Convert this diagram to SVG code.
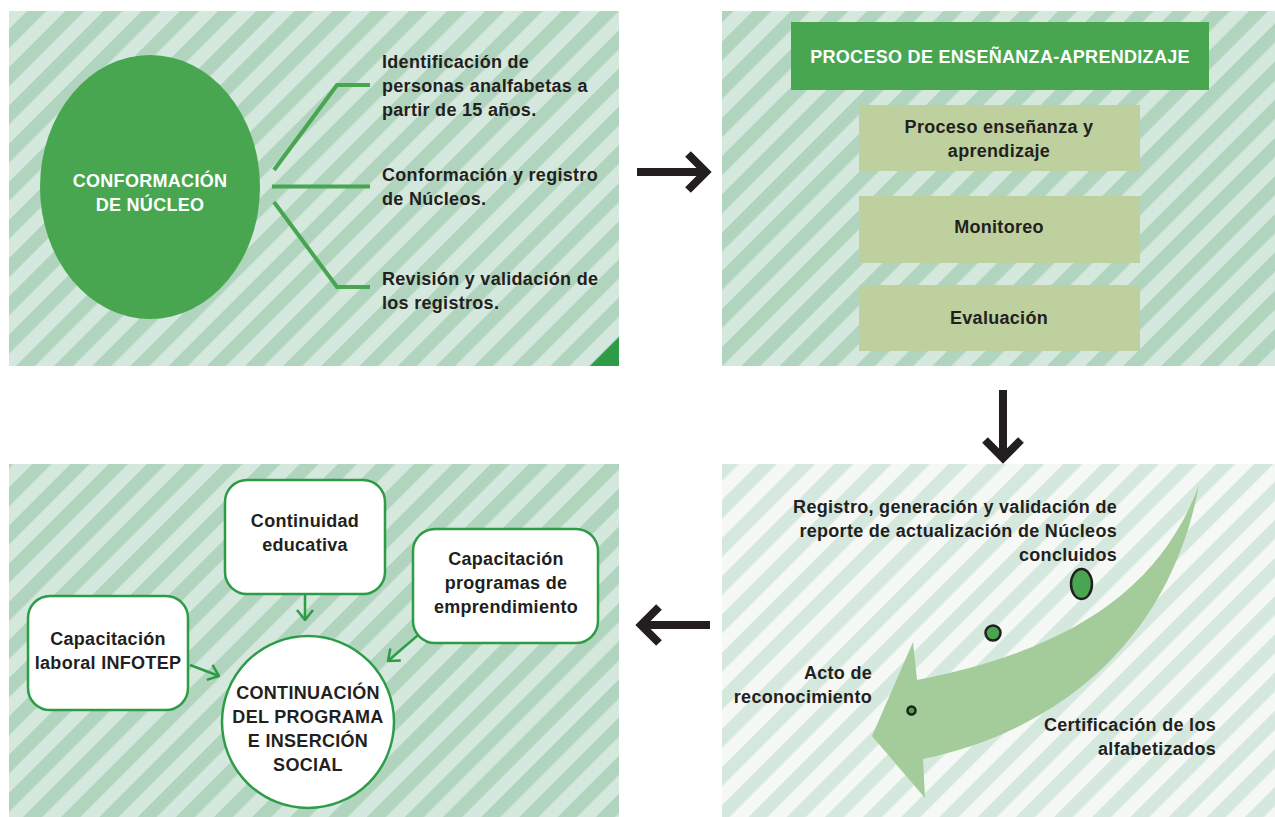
<svg xmlns="http://www.w3.org/2000/svg" width="1275" height="817" viewBox="0 0 1275 817">
<defs>
<pattern id="stripesA" patternUnits="userSpaceOnUse" width="27" height="27" patternTransform="rotate(45)">
<rect width="27" height="27" fill="#d5e8dd"/>
<rect width="13.5" height="27" fill="#b0d4be"/>
</pattern>
<pattern id="stripesB" patternUnits="userSpaceOnUse" width="27" height="27" patternTransform="rotate(45)">
<rect width="27" height="27" fill="#f5f8f5"/>
<rect width="13.5" height="27" fill="#d5e8dd"/>
</pattern>
<marker id="gchev" viewBox="0 0 12 18" refX="11" refY="9" markerWidth="12" markerHeight="18" markerUnits="userSpaceOnUse" orient="auto">
<path d="M1,1 L11,9 L1,17" fill="none" stroke="#2d9c47" stroke-width="2.5"/>
</marker>
<style>
.t{font-family:"Liberation Sans",Arial,sans-serif;font-weight:700;font-size:18px;letter-spacing:0.3px;fill:#231f20}
.w{fill:#ffffff}
.c{text-anchor:middle}
.e{text-anchor:end}
.conn{fill:none;stroke:#47a64f;stroke-width:4}
.blk{fill:none;stroke:#231f20;stroke-width:8}
.gl{fill:none;stroke:#2d9c47;stroke-width:2.5}
.box{fill:#ffffff;stroke:#2d9c47;stroke-width:2.5}
.olive{fill:#bdd09e}
.dot{fill:#47a64f;stroke:#231f20;stroke-width:2.5}
</style>
</defs>

<!-- panels -->
<rect x="9" y="11" width="610" height="355" fill="url(#stripesA)"/>
<rect x="722" y="11" width="553" height="355" fill="url(#stripesA)"/>
<rect x="9" y="464" width="610" height="353" fill="url(#stripesA)"/>
<rect x="722" y="464" width="553" height="353" fill="url(#stripesB)"/>
<path d="M590,366 L619,337 L619,366 Z" fill="#2d9c47"/>

<g id="nucleo">
<ellipse cx="150" cy="187" rx="110" ry="132" fill="#47a64f"/>
<text class="t w c" x="150" y="187">CONFORMACIÓN</text>
<text class="t w c" x="150" y="211">DE NÚCLEO</text>
</g>

<g id="identificacion">
<text class="t" x="382" y="68">Identificación de</text>
<text class="t" x="382" y="92">personas analfabetas a</text>
<text class="t" x="382" y="116">partir de 15 años.</text>
</g>
<g id="conformacion">
<text class="t" x="382" y="181">Conformación y registro</text>
<text class="t" x="382" y="205">de Núcleos.</text>
</g>
<g id="revision">
<text class="t" x="382" y="285">Revisión y validación de</text>
<text class="t" x="382" y="309">los registros.</text>
</g>

<g id="proceso-header">
<rect x="791" y="22" width="418" height="68" fill="#47a64f"/>
<text class="t w c" x="1000" y="63">PROCESO DE ENSEÑANZA-APRENDIZAJE</text>
</g>
<g id="ensenanza">
<rect class="olive" x="859" y="105" width="281" height="66"/>
<text class="t c" x="999" y="133">Proceso enseñanza y</text>
<text class="t c" x="999" y="157">aprendizaje</text>
</g>
<g id="monitoreo">
<rect class="olive" x="859" y="196" width="281" height="67"/>
<text class="t c" x="999" y="233">Monitoreo</text>
</g>
<g id="evaluacion">
<rect class="olive" x="859" y="285" width="281" height="66"/>
<text class="t c" x="999" y="324">Evaluación</text>
</g>

<g id="ciclo">
<path d="M1199,485 C1160,590 1070,650 917,680 L913,642 L872,736 L925,798 L923,759 C1060,730 1170,640 1199,485 Z" fill="#a3cc9a"/>
<ellipse class="dot" cx="1081.5" cy="584" rx="10.5" ry="15"/>
<circle class="dot" cx="993" cy="633" r="7.5"/>
<circle class="dot" cx="911.5" cy="710.5" r="4"/>
</g>
<g id="registro">
<text class="t e" x="1117" y="513">Registro, generación y validación de</text>
<text class="t e" x="1117" y="537">reporte de actualización de Núcleos</text>
<text class="t e" x="1117" y="561">concluidos</text>
</g>
<g id="acto">
<text class="t e" x="872" y="679">Acto de</text>
<text class="t e" x="872" y="703">reconocimiento</text>
</g>
<g id="certificacion">
<text class="t e" x="1216" y="731">Certificación de los</text>
<text class="t e" x="1216" y="755">alfabetizados</text>
</g>

<g id="continuidad">
<rect class="box" x="225" y="480" width="160" height="114" rx="22"/>
<text class="t c" x="305" y="527">Continuidad</text>
<text class="t c" x="305" y="551">educativa</text>
</g>
<g id="emprendimiento">
<rect class="box" x="413" y="529" width="185" height="114" rx="22"/>
<text class="t c" x="506" y="565">Capacitación</text>
<text class="t c" x="506" y="589">programas de</text>
<text class="t c" x="506" y="613">emprendimiento</text>
</g>
<g id="infotep">
<rect class="box" x="28" y="596" width="160" height="114" rx="22"/>
<text class="t c" x="108" y="645">Capacitación</text>
<text class="t c" x="108" y="669">laboral INFOTEP</text>
</g>
<g id="continuacion">
<circle class="box" cx="308" cy="722" r="86"/>
<text class="t c" x="308" y="699">CONTINUACIÓN</text>
<text class="t c" x="308" y="723">DEL PROGRAMA</text>
<text class="t c" x="308" y="747">E INSERCIÓN</text>
<text class="t c" x="308" y="771">SOCIAL</text>
</g>

<g id="connectors">
<path class="conn" d="M274,170 L337,85 L370,85"/>
<path class="conn" d="M272,186.5 L370,186.5"/>
<path class="conn" d="M274,202 L337,287 L370,287"/>
<path class="blk" d="M637,172 L706,172"/>
<path class="blk" d="M688,154 L706,172 L688,190"/>
<path class="blk" d="M1003,390 L1003,458"/>
<path class="blk" d="M985,440 L1003,458 L1021,440"/>
<path class="blk" d="M710,625 L641,625"/>
<path class="blk" d="M659,607 L641,625 L659,643"/>
<path class="gl" d="M305,594 L305,620" marker-end="url(#gchev)"/>
<path class="gl" d="M190,665 L219,676" marker-end="url(#gchev)"/>
<path class="gl" d="M418,635 L388,661" marker-end="url(#gchev)"/>
</g>
</svg>
